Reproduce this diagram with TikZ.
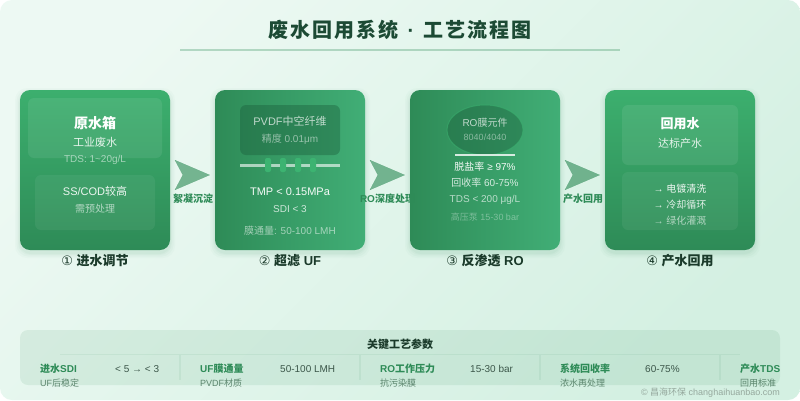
\documentclass[tikz,border=0pt]{standalone}
\usepackage{fontspec}
\setmainfont{Liberation Sans}
\newfontfamily\cjk{Noto Sans CJK SC}
\newfontfamily\cjktitle[LetterSpace=10]{Noto Sans CJK SC}
\newfontfamily\lattitle[LetterSpace=10]{Liberation Sans}
\newfontfamily\symf{DejaVu Sans}
\newcommand{\C}[1]{{\cjk #1}}
\newcommand{\Num}[1]{{\mdseries\symf #1}}
\newcommand{\Fs}[1]{\fontsize{#1}{#1}\selectfont}
\usetikzlibrary{arrows.meta}
\definecolor{sea}{HTML}{2E8B57}
\definecolor{msea}{HTML}{3CB371}
\definecolor{cardtop}{HTML}{3CAF6E}
\definecolor{cardhi}{HTML}{41AE76}
\definecolor{ink}{HTML}{1A3A2A}
\definecolor{tealdark}{HTML}{1A5C3A}
\definecolor{titleink}{HTML}{1C4A34}
\definecolor{bgA}{HTML}{EDF9F3}
\definecolor{bgB}{HTML}{D4F0E2}
\tikzset{
  lbl/.style={inner sep=0pt,anchor=base,text=white},
  cardv/.style={minimum width=150pt,minimum height=160pt,inner sep=0pt,rounded corners=10pt,top color=cardtop,bottom color=sea},
  cardh/.style={minimum width=150pt,minimum height=160pt,inner sep=0pt,rounded corners=10pt,left color=sea,right color=cardhi},
  panel/.style={inner sep=0pt,rounded corners=6pt,fill=white},
  caption/.style={inner sep=0pt,anchor=base,text=ink,font=\bfseries\Fs{13}},
  flow/.style={draw=sea,fill=sea,line width=0.01pt,opacity=.62,shorten >=5pt,shorten <=12pt,-{Stealth[length=35pt,width=30pt,inset=8pt]}},
  flowlbl/.style={inner sep=0pt,anchor=base,text=sea,font=\bfseries\Fs{10}},
  phead/.style={inner sep=0pt,anchor=base west,text=sea,font=\bfseries\Fs{10}},
  psub/.style={inner sep=0pt,anchor=base west,text=sea!45!gray,font=\Fs{9}},
  pval/.style={inner sep=0pt,anchor=base west,text=ink!85!white,font=\Fs{10}},
  sep/.style={draw=sea,opacity=.08,line width=1.2pt}
}
\newcommand{\softshadow}[4]{%
  \foreach \g/\o in {5/.025,3.5/.03,2/.035,1/.04}{
    \fill[sea,opacity=\o,rounded corners=12pt] (#1-\g,#2+3-\g) rectangle (#3+\g,#4+3+\g);
  }}
\begin{document}
\begin{tikzpicture}[x=1pt,y=-1pt]
\useasboundingbox (0,0) rectangle (800,400);
\fill[white] (0,0) rectangle (800,400);
\shade[shading=axis,bottom color=bgB,top color=bgA,shading angle=45,rounded corners=12pt] (0,0) rectangle (800,400);

% title
\node[inner sep=0pt,anchor=base,text=titleink,font=\bfseries\Fs{20}] (title) at (400,37.5) {{\cjktitle 废水回用系统}\kern1.5pt{\lattitle\ ·\ }\kern1.5pt{\cjktitle 工艺流程图}};
\coordinate (ruleL) at (180,49.5);
\coordinate (ruleR) at (620,49.5);
\draw[draw=sea,opacity=.3,line width=2pt] (ruleL) -- (ruleR);

% shadows
\softshadow{20}{90}{170}{250}
\softshadow{215}{90}{365}{250}
\softshadow{410}{90}{560}{250}
\softshadow{605}{90}{755}{250}

% cards
\node[cardv] (card1) at (95,170) {};
\node[cardh] (card2) at (290,170) {};
\node[cardh] (card3) at (485,170) {};
\node[cardv] (card4) at (680,170) {};

% card 1
\node[panel,fill opacity=.08,minimum width=134pt,minimum height=60pt] (p1a) at (95,128) {};
\node[panel,fill opacity=.06,minimum width=120pt,minimum height=55pt] (p1b) at (95,202.5) {};
\node[lbl,font=\bfseries\Fs{14}] (t1a) at (95,128) {\C{原水箱}};
\node[lbl,font=\Fs{11},text opacity=.88] (t1b) at (95,146) {\C{工业废水}};
\node[lbl,font=\Fs{10},text opacity=.55] (t1c) at (95,162.5) {TDS: 1\textasciitilde20g/L};
\node[lbl,font=\Fs{11},text opacity=.9] (t1d) at (95,195) {SS/COD\C{较高}};
\node[lbl,font=\Fs{10},text opacity=.6] (t1e) at (95,212.5) {\C{需预处理}};

% card 2
\node[panel,fill=tealdark,fill opacity=.4,minimum width=100pt,minimum height=50pt] (p2a) at (290,130) {};
\node[lbl,font=\Fs{11},text opacity=.7] (t2a) at (290,125) {PVDF\C{中空纤维}};
\node[lbl,font=\Fs{10},text opacity=.5] (t2b) at (290,142) {\C{精度} 0.01μm};
\coordinate (memL) at (240,165);
\coordinate (memR) at (340,165);
\draw[draw=white,opacity=.6,line width=3pt] (memL) -- (memR);
\foreach \n/\x in {a/268,b/283,c/298,d/313}{
  \node[inner sep=0pt,fill=msea,rounded corners=2pt,minimum width=6pt,minimum height=14pt] (peg\n) at (\x,165) {};
}
\node[lbl,font=\Fs{11},text opacity=.95] (t2c) at (290,195) {TMP < 0.15MPa};
\node[lbl,font=\Fs{10},text opacity=.75] (t2d) at (290,212.5) {SDI < 3};
\node[lbl,font=\Fs{10},text opacity=.55] (t2e) at (290,234.5) {\C{膜通量}: 50-100 LMH};

% card 3
\draw[draw=msea,fill=tealdark,fill opacity=.4,draw opacity=.5,line width=1pt] (485,130) ellipse [x radius=38pt,y radius=25pt];
\node[lbl,font=\Fs{10},text opacity=.7] (t3a) at (485,126) {RO\C{膜元件}};
\node[lbl,font=\Fs{9},text opacity=.45] (t3b) at (485,140.5) {8040/4040};
\coordinate (roL) at (455,155);
\coordinate (roR) at (515,155);
\draw[draw=white,opacity=.8,line width=2pt] (roL) -- (roR);
\node[lbl,font=\Fs{10},text opacity=.95] (t3c) at (485,170.5) {\C{脱盐率} ≥ 97\%};
\node[lbl,font=\Fs{10},text opacity=.8] (t3d) at (485,186.5) {\C{回收率} 60-75\%};
\node[lbl,font=\Fs{10},text opacity=.65] (t3e) at (485,202.5) {TDS < 200 μg/L};
\node[lbl,font=\Fs{9},text opacity=.35] (t3f) at (485,220) {\C{高压泵} 15-30 bar};

% card 4
\node[panel,fill opacity=.08,minimum width=116pt,minimum height=60pt] (p4a) at (680,135) {};
\node[panel,fill opacity=.06,minimum width=116pt,minimum height=58pt] (p4b) at (680,201) {};
\node[lbl,font=\bfseries\Fs{13},text opacity=1] (t4a) at (680,128) {\C{回用水}};
\node[lbl,font=\Fs{11},text opacity=.85] (t4b) at (680,147) {\C{达标产水}};
\node[lbl,font=\Fs{10},text opacity=.9] (t4c) at (680,192.5) {→ \C{电镀清洗}};
\node[lbl,font=\Fs{10},text opacity=.85] (t4d) at (680,208.5) {→ \C{冷却循环}};
\node[lbl,font=\Fs{10},text opacity=.6] (t4e) at (680,224.5) {→ \C{绿化灌溉}};

% captions
\node[caption] (c1) at (95,265) {\Num{①} \C{进水调节}};
\node[caption] (c2) at (290,265) {\Num{②} \C{超滤} UF};
\node[caption] (c3) at (485,265) {\Num{③} \C{反渗透} RO};
\node[caption] (c4) at (680,265) {\Num{④} \C{产水回用}};

% connectors
\draw[flow] ([yshift=-5pt]card1.east) -- ([yshift=-5pt]card2.west);
\draw[flow] ([yshift=-5pt]card2.east) -- ([yshift=-5pt]card3.west);
\draw[flow] ([yshift=-5pt]card3.east) -- ([yshift=-5pt]card4.west);
\node[flowlbl] (f1) at (193,202) {\C{絮凝沉淀}};
\node[flowlbl] (f2) at (387.5,202) {RO\C{深度处理}};
\node[flowlbl] (f3) at (583,202) {\C{产水回用}};

% parameter panel
\node[inner sep=0pt,rounded corners=8pt,fill=sea,fill opacity=.1,minimum width=760pt,minimum height=55pt] (params) at (400,357.5) {};
\node[inner sep=0pt,anchor=base,text=ink,font=\bfseries\Fs{11}] (ptitle) at (400,348) {\C{关键工艺参数}};
\coordinate (hL) at (60,354.5);
\coordinate (hR) at (740,354.5);
\draw[sep] (hL) -- (hR);
\foreach \n/\x in {a/180,b/360,c/540,d/720}{
  \coordinate (v\n t) at (\x,355);
  \coordinate (v\n b) at (\x,380);
  \draw[sep] (v\n t) -- (v\n b);
}
\node[phead] (h1) at (40,372) {\C{进水}SDI};
\node[psub] (s1) at (40,386) {UF\C{后稳定}};
\node[pval] (v1) at (115,372) {< 5 → < 3};
\node[phead] (h2) at (200,372) {UF\C{膜通量}};
\node[psub] (s2) at (200,386) {PVDF\C{材质}};
\node[pval] (v2) at (280,372) {50-100 LMH};
\node[phead] (h3) at (380,372) {RO\C{工作压力}};
\node[psub] (s3) at (380,386) {\C{抗污染膜}};
\node[pval] (v3) at (470,372) {15-30 bar};
\node[phead] (h4) at (560,372) {\C{系统回收率}};
\node[psub] (s4) at (560,386) {\C{浓水再处理}};
\node[pval] (v4) at (645,372) {60-75\%};
\node[phead] (h5) at (740,372) {\C{产水}TDS};
\node[psub] (s5) at (740,386) {\C{回用标准}};
\node[inner sep=0pt,anchor=base east,text=sea!30!gray!70!white,font=\Fs{9}] (copy) at (780,395) {© \C{昌海环保} changhaihuanbao.com};
\end{tikzpicture}
\end{document}
